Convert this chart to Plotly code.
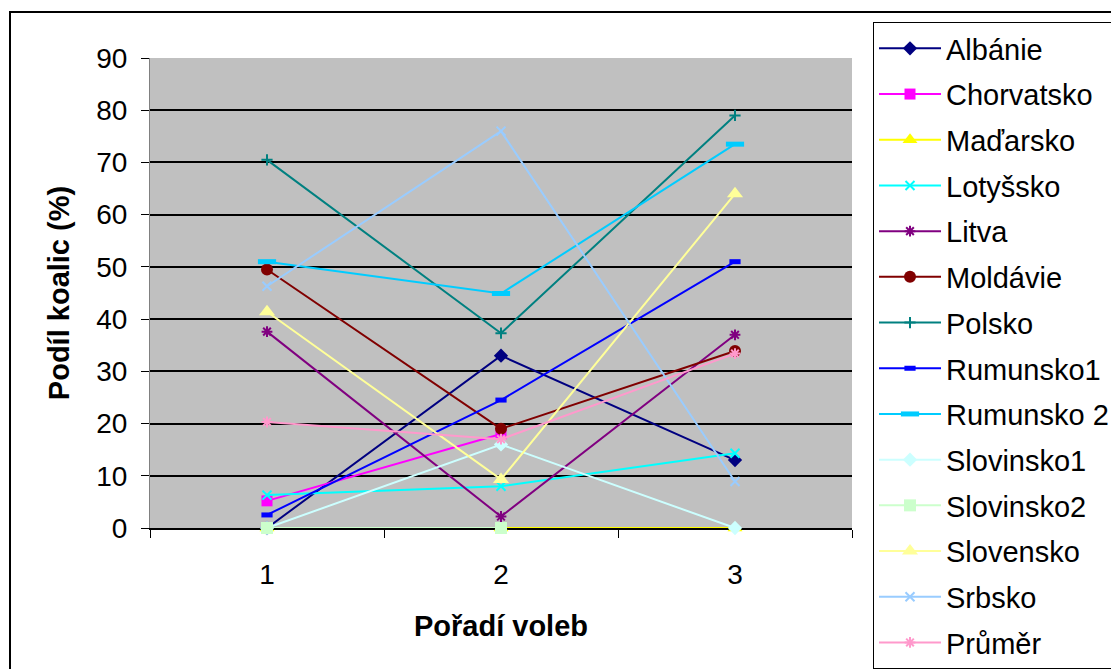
import plotly.graph_objects as go

# Election rounds (category axis)
rounds = ["1", "2", "3"]

# Share of coalitions (%) per country and election round
albanie = [0, 33, 13]
chorvatsko = [5.2, 18, None]
madarsko = [0, 0, 0]
lotyssko = [6.3, 8, 14.3]
litva = [37.6, 2.2, 37]
moldavie = [49.5, 19, 33.9]
polsko = [70.5, 37.3, 79]
rumunsko1 = [2.5, 24.5, 51]
rumunsko2 = [51, 44.9, 73.5]
slovinsko1 = [0, 16, 0]
slovinsko2 = [0, 0, None]
slovensko = [41.4, 9.3, 64]
srbsko = [46.3, 76, 8.9]
prumer = [20.3, 17, 33.4]

series = [
    ("Albánie", albanie, "#000080", "diamond", 11),
    ("Chorvatsko", chorvatsko, "#FF00FF", "square", 11),
    ("Maďarsko", madarsko, "#FFFF00", "triangle-up", 13),
    ("Lotyšsko", lotyssko, "#00FFFF", "x-thin-open", 9),
    ("Litva", litva, "#800080", "asterisk-open", 9),
    ("Moldávie", moldavie, "#800000", "circle", 12),
    ("Polsko", polsko, "#008080", "cross-thin-open", 8),
    ("Rumunsko1", rumunsko1, "#0000FF", "line-ew-open", 8),
    ("Rumunsko 2", rumunsko2, "#00CCFF", "line-ew-open", 13),
    ("Slovinsko1", slovinsko1, "#CCFFFF", "diamond", 11),
    ("Slovinsko2", slovinsko2, "#CCFFCC", "square", 12),
    ("Slovensko", slovensko, "#FFFF99", "triangle-up", 14),
    ("Srbsko", srbsko, "#99CCFF", "x-thin-open", 9),
    ("Průměr", prumer, "#FF99CC", "asterisk-open", 9),
]

FONT = "Liberation Sans, Arial, sans-serif"

fig = go.Figure()
for i, (name, vals, color, symbol, size) in enumerate(series):
    is_open = symbol.endswith("-open")
    lw = 5 if symbol.startswith("line-ew") else 2
    fig.add_trace(go.Scatter(
        x=rounds, y=vals, name=name, mode="lines+markers",
        line=dict(color=color, width=2),
        marker=dict(symbol=symbol, size=size, color=color,
                    line=dict(color=color, width=lw if is_open else 0)),
        legendgroup=f"g{i}",
        connectgaps=False,
        cliponaxis=False,
    ))

# Plot-area geometry in pixels (used for the outer frame in paper units)
L, R, T, B = 150, 852, 58, 528
W, H = R - L, B - T

def px_x(p):
    return (p - L) / W

def px_y(p):
    return (B - p) / H

fig.update_layout(
    width=1111, height=669,
    margin=dict(l=L, r=1111 - R, t=T, b=669 - B, autoexpand=False),
    paper_bgcolor="white",
    plot_bgcolor="#C0C0C0",
    font=dict(family=FONT, size=28, color="black"),
    showlegend=True,
    legend=dict(
        x=px_x(873), y=px_y(22), xanchor="left", yanchor="top",
        bgcolor="white", bordercolor="black", borderwidth=1,
        font=dict(family=FONT, size=29, color="black"),
        tracegroupgap=5, itemwidth=62, maxheight=1,
    ),
    xaxis=dict(
        type="category", categoryorder="array", categoryarray=rounds,
        tickson="boundaries", ticks="outside", ticklen=8, tickwidth=1,
        tickcolor="black", showgrid=False,
        showline=True, linecolor="black", linewidth=2,
        layer="below traces",
        ticklabelstandoff=20,
        tickfont=dict(family=FONT, size=28),
        title=dict(text="Pořadí voleb", standoff=27,
                   font=dict(family=FONT, size=29, weight="bold")),
        range=[-0.5, 2.5],
    ),
    yaxis=dict(
        range=[0, 90], dtick=10, tick0=0,
        ticks="outside", ticklen=8, tickwidth=1, tickcolor="black",
        showgrid=True, gridcolor="black", gridwidth=2,
        zeroline=True, zerolinecolor="black", zerolinewidth=2,
        showline=True, linecolor="#808080", linewidth=1,
        layer="below traces",
        ticklabelstandoff=8,
        tickfont=dict(family=FONT, size=28),
        title=dict(text="Podíl koalic (%)", standoff=18,
                   font=dict(family=FONT, size=29, weight="bold")),
    ),
    shapes=[dict(
        type="rect", xref="paper", yref="paper",
        x0=px_x(10), x1=px_x(1125), y0=px_y(690), y1=px_y(12),
        line=dict(color="black", width=2), fillcolor="rgba(0,0,0,0)",
        layer="below",
    )],
)

fig.write_html("out.html")
